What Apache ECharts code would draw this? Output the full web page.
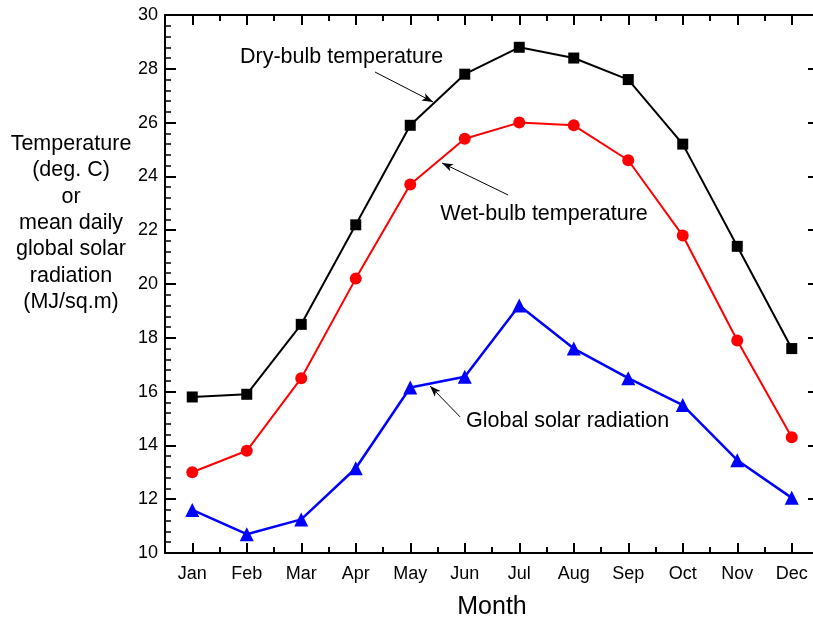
<!DOCTYPE html>
<html>
<head>
<meta charset="utf-8">
<script src="https://cdn.jsdelivr.net/npm/echarts@6/dist/echarts.min.js"></script>
<style>
  html, body { margin: 0; padding: 0; background: #fff; }
  #chart { width: 813px; height: 618px; }
</style>
</head>
<body>
<div id="chart"></div>
<script>
const months = ['Jan', 'Feb', 'Mar', 'Apr', 'May', 'Jun', 'Jul', 'Aug', 'Sep', 'Oct', 'Nov', 'Dec'];
const dryBulb = [15.8, 15.9, 18.5, 22.2, 25.9, 27.8, 28.8, 28.4, 27.6, 25.2, 21.4, 17.6];
const wetBulb = [13.0, 13.8, 16.5, 20.2, 23.7, 25.4, 26.0, 25.9, 24.6, 21.8, 17.9, 14.3];
const solarRad = [11.6, 10.7, 11.25, 13.15, 16.15, 16.55, 19.2, 17.6, 16.5, 15.5, 13.45, 12.05];
const yTicks = { min: 10, max: 30, step: 2 };

const font = 'Liberation Sans, Arial, sans-serif';
const black = '#000';

// x axes: one with ticks at the months, one with the half-month ticks
function monthAxis(pos, centre) {
  return {
    type: 'category',
    data: months,
    position: pos,
    boundaryGap: true,
    axisLine: { show: centre, lineStyle: { color: black, width: 2 } },
    axisTick: {
      show: true, inside: true, alignWithLabel: centre, interval: 0,
      length: centre ? 10 : 6,
      lineStyle: { color: black, width: 2 }
    },
    axisLabel: {
      show: centre && pos === 'bottom', interval: 0, margin: 12,
      color: black, fontSize: 18, fontFamily: font
    },
    splitLine: { show: false }
  };
}

function valueAxis(pos) {
  return {
    type: 'value',
    position: pos,
    min: yTicks.min,
    max: yTicks.max,
    interval: yTicks.step,
    axisLine: { show: true, lineStyle: { color: black, width: 2 } },
    axisTick: { show: true, inside: true, length: 11, lineStyle: { color: black, width: 2 } },
    minorTick: { show: true, splitNumber: 5, length: 6, lineStyle: { color: black, width: 1.5 } },
    axisLabel: {
      show: pos === 'left', margin: 7, padding: [4, 0, 0, 0],
      color: black, fontSize: 18, fontFamily: font
    },
    splitLine: { show: false },
    minorSplitLine: { show: false }
  };
}

const bottom = monthAxis('bottom', true);
bottom.name = 'Month';
bottom.nameLocation = 'middle';
bottom.nameGap = 42;
bottom.nameTextStyle = { color: black, fontSize: 25, fontFamily: font };

const option = {
  animation: false,
  backgroundColor: '#fff',
  grid: {
    left: 165, top: 15, width: 654, height: 538,
    containLabel: false, outerBoundsMode: 'none'
  },
  xAxis: [
    bottom,
    monthAxis('bottom', false),
    monthAxis('top', true),
    monthAxis('top', false),
    { type: 'value', min: 0, max: 12, show: false }
  ],
  yAxis: [valueAxis('left'), valueAxis('right')],
  graphic: [{
    type: 'text',
    x: 71,
    y: 223,
    style: {
      text: 'Temperature\n(deg. C)\nor\nmean daily\nglobal solar\nradiation\n(MJ/sq.m)',
      align: 'center',
      verticalAlign: 'middle',
      lineHeight: 26.3,
      fontSize: 21.5,
      fontFamily: font,
      fill: black
    }
  }],
  series: [
    {
      name: 'Dry-bulb temperature',
      type: 'line',
      data: dryBulb,
      symbol: 'rect',
      symbolSize: 11,
      lineStyle: { color: black, width: 2 },
      itemStyle: { color: black }
    },
    {
      name: 'Wet-bulb temperature',
      type: 'line',
      data: wetBulb,
      symbol: 'circle',
      symbolSize: 12,
      lineStyle: { color: '#ff0000', width: 2 },
      itemStyle: { color: '#ff0000' }
    },
    {
      name: 'Global solar radiation',
      type: 'line',
      data: solarRad,
      symbol: 'triangle',
      symbolSize: 14,
      lineStyle: { color: '#0000ff', width: 2.5 },
      itemStyle: { color: '#0000ff' }
    },
    {
      // labels and arrows
      type: 'line',
      xAxisIndex: 4,
      yAxisIndex: 0,
      data: [],
      silent: true,
      markLine: {
        silent: true,
        symbol: ['none', 'arrow'],
        symbolSize: [6, 11],
        lineStyle: { color: black, width: 1, type: 'solid' },
        label: { show: false },
        data: [
          [{ coord: [3.854, 27.88] }, { coord: [4.918, 26.77] }],
          [{ coord: [6.295, 23.31] }, { coord: [5.083, 24.50] }],
          [{ coord: [5.414, 15.06] }, { coord: [4.863, 16.21] }]
        ]
      },
      markPoint: {
        silent: true,
        symbol: 'circle',
        symbolSize: 0,
        label: {
          show: true, position: 'inside', formatter: '{b}',
          color: black, fontSize: 21.5, fontFamily: font
        },
        data: [
          { name: 'Dry-bulb temperature', coord: [3.239, 28.44] },
          { name: 'Wet-bulb temperature', coord: [6.955, 22.60] },
          { name: 'Global solar radiation', coord: [7.387, 14.91] }
        ]
      }
    }
  ]
};

const chart = echarts.init(document.getElementById('chart'), null, { renderer: 'canvas' });
chart.setOption(option);
</script>
</body>
</html>
